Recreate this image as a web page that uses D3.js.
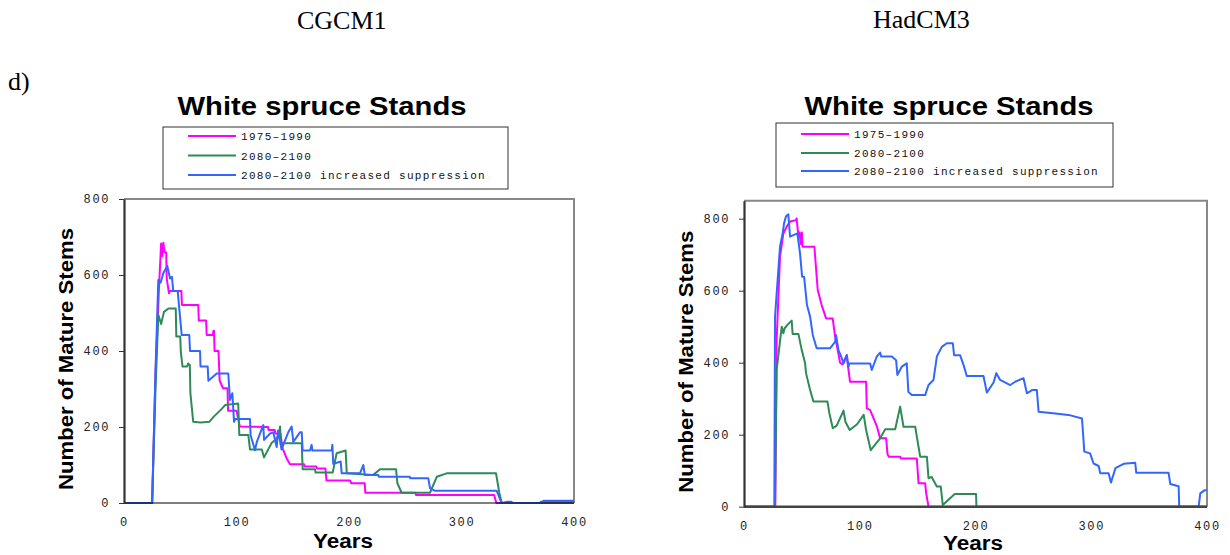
<!DOCTYPE html>
<html>
<head>
<meta charset="utf-8">
<script src="https://cdn.jsdelivr.net/npm/d3@7"></script>
<style>
  body { margin: 0; background: #fff; }
  svg { display: block; }
  .tick text { font-family: "Liberation Mono", monospace; font-size: 12px; letter-spacing: 1.6px; fill: #222; }
  .legend text { font-family: "Liberation Mono", monospace; font-size: 11px; letter-spacing: 1.3px; fill: #111; }
</style>
</head>
<body>
<div id="chart"></div>
<script>
// series names and colours
const seriesNames = ["1975\u20131990", "2080\u20132100", "2080\u20132100 increased suppression"];
const seriesColors = ["#ff00ff", "#2e8b57", "#3366ff"];
const xTicks = [0, 100, 200, 300, 400];
const yTicks = [0, 200, 400, 600, 800];

// CGCM1 panel: [year, mature stems]
const cgcmCurrent = [[0,0],[25,0],[28,340],[31,560],[33,683],[34,650],[35,685],[36,660],[37.5,659],[38,590],[40,552],[40.5,558],[51,558],[51.5,521],[66,521],[66.5,480],[73,480],[73.5,442],[79,442],[79.5,453],[80,453],[80.5,400],[84,400],[85,322],[88,302],[92,302],[92.5,243],[100,243],[103,201],[128,200],[128.5,192],[134,192],[134.5,183],[139,183],[141,144],[144.5,118],[147.5,102],[160,102],[160.5,96],[171,96],[171.5,91],[179,91],[180,59],[201,59],[202,52],[214,52],[214.5,27],[259,27],[259.5,21],[329,21],[331,0],[400,0]];
const cgcmFuture = [[0,0],[25,0],[28,300],[30.5,495],[33,471],[35.5,503],[39.5,512],[46,512],[46.5,438],[50,438],[50.5,398],[52,359],[56,359],[57,367],[58.5,363],[59,290],[61.5,214],[68,212],[76,214],[80,228],[86,245],[90,258],[101.5,262],[102.5,179],[110.5,179],[112,141],[122.5,141],[124.5,120],[131,157],[134,165],[138,180],[138.7,201],[139.5,157],[158,157],[158.8,89],[169.8,89],[170.3,80],[185.5,80],[189,131],[197,138],[198,78],[221.6,74],[227.6,89],[241.8,89],[243,52],[246.8,27],[272,27],[278,69],[286.8,78],[330.7,78],[333.6,27],[335.7,0],[370,0],[370.5,3],[400,3]];
const cgcmSuppression = [[0,0],[25,0],[28,350],[30.5,587],[32.6,580],[35,605],[38.5,624],[40.9,591],[42.6,595],[43.8,558],[47.7,558],[51.3,442],[58,442],[58.7,400],[67.6,400],[68,359],[74.4,359],[75,322],[82.4,341],[92.7,341],[94.2,271],[96.3,289],[97.8,214],[99,221],[112,221],[112.5,179],[116.4,139],[118,160],[123.8,205],[124.5,166],[129.8,183],[132.7,186],[135.7,147],[137,191],[140,141],[146,186],[149,201],[150.5,161],[156.4,186],[158,186],[158.8,138],[165.3,138],[166.8,153],[167.5,138],[184.6,138],[185.2,153],[186,103],[192.6,109],[193.5,78],[209.8,78],[212.7,100],[214,74],[226,74],[226.5,69],[254,69],[254.5,65],[270.5,65],[272,39],[276.4,32],[331.3,32],[335.7,0],[340,3],[344.6,3],[345,0],[369.8,0],[373.3,6],[400,6]];

// HadCM3 panel: [year, mature stems]
const hadCurrent = [[0,0],[27,0],[28.2,463],[31.1,694],[34,759],[36.9,778],[39.8,792],[45,796],[45.5,801],[47,750],[48,762],[49,730],[50,762],[50.5,722],[60.8,722],[63.7,602],[67.1,560],[70.9,523],[76.6,523],[78.7,474],[80.7,440],[83,400],[85,395],[88.8,421],[89.5,400],[91.6,347],[105.5,347],[106.1,273],[108.9,269],[114.7,224],[117.6,190],[122.8,190],[124,146],[125,139],[134.9,139],[135.5,134],[149.3,134],[150.8,65],[156.5,65],[157.4,37],[159.4,0],[400,0]];
const hadFuture = [[0,0],[26.8,0],[28.2,380],[32.6,500],[34,482],[35,495],[37.5,505],[41.2,517],[42,480],[47,480],[49.9,435],[52.7,400],[53.6,371],[57.1,324],[60,292],[72.1,292],[73.8,259],[76.7,218],[80.1,225],[86,267],[87.6,236],[91.3,213],[97.7,229],[103.4,255],[105.5,213],[109.5,157],[114.1,176],[117.6,190],[122,215],[130.6,215],[134.9,278],[137.8,222],[147.9,222],[152.2,139],[158,139],[159.4,79],[162,83],[166.6,56],[170,56],[171.7,5],[180.9,32],[182,35],[200.5,35],[200.8,0],[400,0]];
const hadSuppression = [[0,0],[26.2,0],[26.8,528],[31.1,722],[33.4,759],[34.6,787],[36.3,807],[38.3,812],[39.8,750],[46.1,759],[48.4,704],[50.2,639],[51.9,639],[54.4,560],[57.1,528],[59.4,477],[62.8,440],[74.3,440],[78.7,458],[79.5,477],[81.6,435],[83.5,421],[86,398],[88.8,421],[90.2,389],[91,398],[109,398],[110.4,380],[114.7,417],[117.6,428],[118.5,417],[127.7,417],[131.4,407],[132.5,366],[136.3,389],[140.6,398],[142,319],[145,310],[156.5,310],[159.4,338],[163.7,352],[166.6,417],[170.9,444],[175.2,454],[180.4,454],[181.5,421],[186.7,421],[189.6,394],[192.5,363],[206.9,363],[209.8,317],[215.6,345],[218,371],[221.3,352],[230,338],[234.3,347],[241.5,357],[244.4,315],[248.8,324],[253,324],[254.5,264],[268.9,259],[280.4,255],[292,245],[294,153],[299,148],[302,120],[306.4,113],[307.8,93],[315,93],[317,67],[320.9,107],[328,119],[338,122],[338.9,94],[366.8,94],[368.3,63],[375.5,57],[376,0],[392.8,0],[394.2,37],[398,46],[400,46]];

const W = 1230, H = 555;
const svg = d3.select("#chart").append("svg")
    .attr("width", W)
    .attr("height", H);

// 面板佈局
const panels = [
    { model: "CGCM1", modelX: 297, modelY: 29, x0: 124, x1: 574, y0: 503, y1: 199, yMax: 800,
      titleX: 322, legend: { x: 163, y: 127, w: 345, h: 62, rows: [136, 155.5, 175] },
      axisW: 1.2, axisC: "#000", labelY: 525, yearsX: 343, yearsY: 548, yTitleX: 73,
      series: [cgcmCurrent, cgcmFuture, cgcmSuppression] },
    { model: "HadCM3", modelX: 873, modelY: 28, x0: 744, x1: 1207, y0: 506.7, y1: 200.7, yMax: 850,
      titleX: 949, legend: { x: 776, y: 123, w: 337, h: 64, rows: [134, 153, 171] },
      axisW: 2.4, axisC: "#444", labelY: 529, yearsX: 973, yearsY: 550, yTitleX: 693,
      series: [hadCurrent, hadFuture, hadSuppression] }
];

svg.append("text")
    .attr("x", 8).attr("y", 90)
    .style("font-family", "'Liberation Serif', serif").style("font-size", "26px")
    .text("d)");

panels.forEach(p => {
    const x = d3.scaleLinear().domain([0, 400]).range([p.x0, p.x1]);
    const y = d3.scaleLinear().domain([0, p.yMax]).range([p.y0, p.y1]);
    const g = svg.append("g");

    g.append("text")
        .attr("x", p.modelX).attr("y", p.modelY)
        .style("font-family", "'Liberation Serif', serif").style("font-size", "26px")
        .text(p.model);

    g.append("text")
        .attr("x", p.titleX).attr("y", 115)
        .attr("text-anchor", "middle")
        .attr("textLength", 289).attr("lengthAdjust", "spacingAndGlyphs")
        .style("font-family", "'Liberation Sans', Arial, sans-serif")
        .style("font-size", "25px").style("font-weight", "bold")
        .text("White spruce Stands");

    // 圖框：上、右為灰色
    g.append("path")
        .attr("d", `M${p.x0},${p.y1}H${p.x1}V${p.y0}`)
        .attr("fill", "none").attr("stroke", "#888").attr("stroke-width", 2);

    // 數據線
    const line = d3.line().x(d => x(d[0])).y(d => y(d[1]));
    p.series.forEach((s, i) => {
        g.append("path")
            .datum(s)
            .attr("d", line)
            .attr("fill", "none")
            .attr("stroke", seriesColors[i])
            .attr("stroke-width", 2)
            .attr("stroke-linejoin", "round");
    });

    // x 軸
    g.append("g")
        .attr("transform", `translate(0,${p.labelY - 14})`)
        .call(d3.axisBottom(x).tickValues(xTicks).tickSize(0).tickPadding(6))
        .call(a => a.select(".domain").remove());
    g.append("line")
        .attr("x1", p.x0).attr("x2", p.x1).attr("y1", p.y0).attr("y2", p.y0)
        .attr("stroke", p.axisC).attr("stroke-width", p.axisW);

    // y 軸
    g.append("g")
        .attr("transform", `translate(${p.x0},0)`)
        .call(d3.axisLeft(y).tickValues(yTicks).tickSize(5).tickPadding(9).tickSizeOuter(0))
        .call(a => a.select(".domain").attr("stroke", "#333").attr("stroke-width", 2.2))
        .call(a => a.selectAll(".tick line").attr("stroke", "#333"));

    g.append("text")
        .attr("x", p.yearsX).attr("y", p.yearsY)
        .attr("text-anchor", "middle")
        .attr("textLength", 60).attr("lengthAdjust", "spacingAndGlyphs")
        .style("font-family", "'Liberation Sans', Arial, sans-serif")
        .style("font-size", "20px").style("font-weight", "bold")
        .text("Years");

    g.append("text")
        .attr("transform", `translate(${p.yTitleX},${(p.y0 + p.y1) / 2 + 8}) rotate(-90)`)
        .attr("text-anchor", "middle")
        .attr("textLength", 262).attr("lengthAdjust", "spacingAndGlyphs")
        .style("font-family", "'Liberation Sans', Arial, sans-serif")
        .style("font-size", "20px").style("font-weight", "bold")
        .text("Number of Mature Stems");

    // 圖例
    const L = p.legend;
    const lg = g.append("g").attr("class", "legend");
    lg.append("rect")
        .attr("x", L.x).attr("y", L.y).attr("width", L.w).attr("height", L.h)
        .attr("fill", "#fff").attr("stroke", "#333").attr("stroke-width", 1);
    seriesNames.forEach((name, i) => {
        lg.append("line")
            .attr("x1", L.x + 25).attr("x2", L.x + 73)
            .attr("y1", L.rows[i]).attr("y2", L.rows[i])
            .attr("stroke", seriesColors[i]).attr("stroke-width", 2);
        lg.append("text")
            .attr("x", L.x + 78).attr("y", L.rows[i] + 4)
            .text(name);
    });
});
</script>
</body>
</html>
